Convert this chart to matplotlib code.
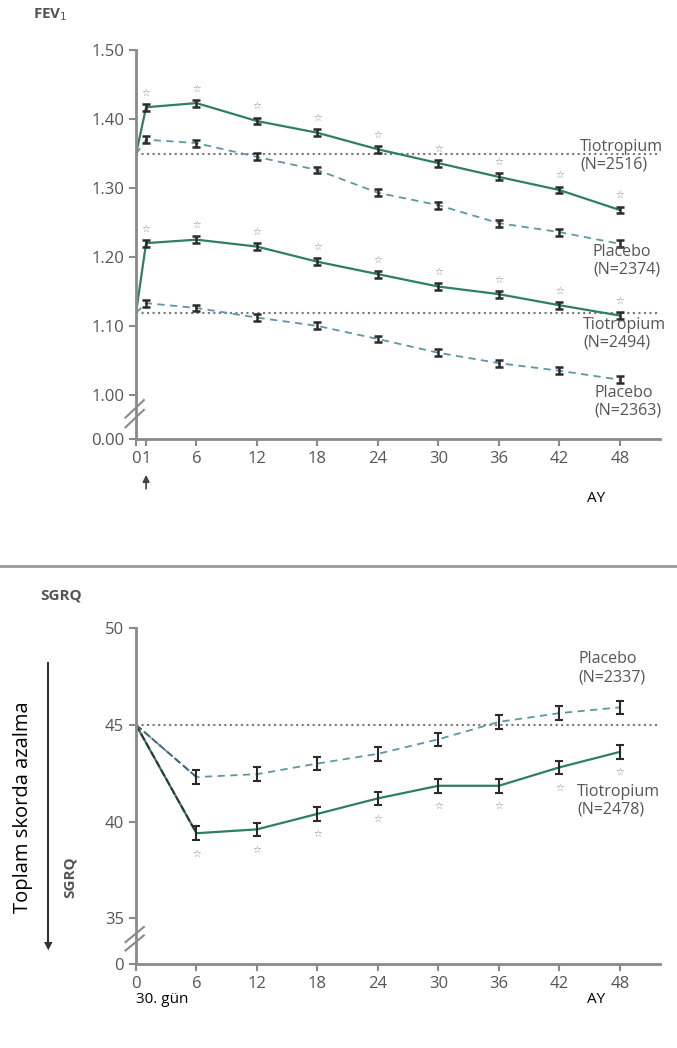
import numpy as np
import matplotlib.pyplot as plt
from matplotlib.lines import Line2D
from matplotlib.transforms import blended_transform_factory

# FEV1 data (litre), month 0 = baseline
ay_fev = [0, 1, 6, 12, 18, 24, 30, 36, 42, 48]
tio_ust = [1.349, 1.417, 1.423, 1.397, 1.380, 1.356, 1.336, 1.316, 1.297, 1.268]
plc_ust = [1.349, 1.370, 1.365, 1.345, 1.326, 1.293, 1.275, 1.249, 1.236, 1.219]
tio_alt = [1.119, 1.220, 1.225, 1.215, 1.193, 1.175, 1.157, 1.146, 1.130, 1.115]
plc_alt = [1.119, 1.133, 1.126, 1.112, 1.100, 1.081, 1.061, 1.046, 1.035, 1.022]
fev_hata = 0.005
fev_ticks = [1.00, 1.10, 1.20, 1.30, 1.40, 1.50]
fev_xticks = [0, 1, 6, 12, 18, 24, 30, 36, 42, 48]

# SGRQ data
ay_sgrq = [0, 6, 12, 18, 24, 30, 36, 42, 48]
tio_sgrq = [45.0, 39.4, 39.6, 40.4, 41.2, 41.85, 41.85, 42.8, 43.6]
plc_sgrq = [45.0, 42.3, 42.45, 43.0, 43.5, 44.25, 45.15, 45.6, 45.9]
sgrq_hata = 0.35
sgrq_ticks = [35, 40, 45, 50]
sgrq_xticks = [0, 6, 12, 18, 24, 30, 36, 42, 48]

yesil = '#2f7f63'
mavi = '#5b98a3'
gri = '#555555'
eksen = '#8a8a8a'

plt.rcParams['font.family'] = ['Open Sans', 'DejaVu Sans']

fig = plt.figure(figsize=(6.77, 10.48), dpi=100)

def eksen_stil(ax):
    for s in ['top', 'right']:
        ax.spines[s].set_visible(False)
    for s in ['left', 'bottom']:
        ax.spines[s].set_color(eksen)
        ax.spines[s].set_linewidth(2)
    ax.tick_params(colors=eksen, width=1.5, length=5, labelcolor=gri, labelsize=12)

def kirik(ax, y0):
    for dy in [0.0, 0.025]:
        ax.plot([-0.02, 0.015], [y0 + dy, y0 + dy + 0.045], transform=ax.transAxes,
                color=eksen, lw=1.5, clip_on=False)

def etiket(ax, x, y, s):
    ax.text(x, y, s, transform=ax.transAxes, fontsize=11.5, color=gri,
            linespacing=1.15, va='top', ha='left')

# ---------- FEV1 ----------
ax1 = fig.add_axes([0.2009, 0.5811, 0.7741, 0.3712])
eksen_stil(ax1)
alt1 = 0.936
ax1.set_ylim(alt1, 1.50)
ax1.set_xlim(0, 52)
ax1.axhline(tio_ust[0], color='#777777', ls=':', lw=1.5)
ax1.axhline(tio_alt[0], color='#777777', ls=':', lw=1.5)
for tio, plc in [(tio_ust, plc_ust), (tio_alt, plc_alt)]:
    ax1.plot(ay_fev, plc, color=mavi, ls='--', lw=1.3, dashes=(4, 3))
    ax1.plot(ay_fev, tio, color=yesil, lw=1.6)
    ax1.errorbar(ay_fev[1:], plc[1:], yerr=fev_hata, fmt='none', ecolor='#2a2a2a',
                 elinewidth=1.8, capsize=3, capthick=1.8)
    ax1.errorbar(ay_fev[1:], tio[1:], yerr=fev_hata, fmt='none', ecolor='#2a2a2a',
                 elinewidth=1.8, capsize=3, capthick=1.8)
    for x, y in zip(ay_fev[1:], tio[1:]):
        ax1.annotate('☆', (x, y), xytext=(0, 7), textcoords='offset points',
                     ha='center', va='bottom', fontsize=7, color='#888888',
                     family='DejaVu Sans')
ax1.set_yticks([alt1] + fev_ticks)
ax1.set_yticklabels(['0.00'] + ['%.2f' % t for t in fev_ticks])
ax1.set_xticks(fev_xticks)
ax1.set_xticklabels([str(t) for t in fev_xticks])
kirik(ax1, 0.03)
ax1.text(-0.197, 1.09, 'FEV$_1$', transform=ax1.transAxes, fontsize=11,
         fontweight='bold', color=gri, va='center')
etiket(ax1, 0.847, 0.772, 'Tiotropium\n(N=2516)')
etiket(ax1, 0.872, 0.502, 'Placebo\n(N=2374)')
etiket(ax1, 0.853, 0.314, 'Tiotropium\n(N=2494)')
etiket(ax1, 0.874, 0.139, 'Placebo\n(N=2363)')
tr = blended_transform_factory(ax1.transData, ax1.transAxes)
ax1.annotate('', xy=(1, -0.085), xytext=(1, -0.135), xycoords=tr, textcoords=tr,
             arrowprops=dict(arrowstyle='-|>', color='#444444', lw=1.2))
ax1.text(0.861, -0.152, 'AY', transform=ax1.transAxes, fontsize=11, color='black',
         va='center')

# separator
y_ayr = 1 - 566 / 1048
fig.add_artist(Line2D([0.0, 1.0], [y_ayr, y_ayr], color='#999999', lw=2))

# ---------- SGRQ ----------
ax2 = fig.add_axes([0.2009, 0.0802, 0.7741, 0.3206])
eksen_stil(ax2)
alt2 = 32.65
ax2.set_ylim(alt2, 50)
ax2.set_xlim(0, 52)
ax2.axhline(45, color='#777777', ls=':', lw=1.5)
ax2.plot(ay_sgrq, plc_sgrq, color=mavi, ls='--', lw=1.3, dashes=(4, 3))
ax2.plot(ay_sgrq, tio_sgrq, color=yesil, lw=1.6)
ax2.plot(ay_sgrq[:2], tio_sgrq[:2], color='#333333', ls='--', lw=1.4)
ax2.plot(ay_sgrq[:2], plc_sgrq[:2], color='#44667a', ls='--', lw=1.4)
ax2.errorbar(ay_sgrq[1:], plc_sgrq[1:], yerr=sgrq_hata, fmt='none', ecolor='#2a2a2a',
             elinewidth=1.5, capsize=3, capthick=1.5)
ax2.errorbar(ay_sgrq[1:], tio_sgrq[1:], yerr=sgrq_hata, fmt='none', ecolor='#2a2a2a',
             elinewidth=1.5, capsize=3, capthick=1.5)
for x, y in zip(ay_sgrq[1:], tio_sgrq[1:]):
    ax2.annotate('☆', (x, y), xytext=(0, -11), textcoords='offset points',
                 ha='center', va='top', fontsize=7, color='#888888',
                 family='DejaVu Sans')
ax2.set_yticks([alt2] + sgrq_ticks)
ax2.set_yticklabels(['0'] + [str(t) for t in sgrq_ticks])
ax2.set_xticks(sgrq_xticks)
ax2.set_xticklabels([str(t) for t in sgrq_xticks])
kirik(ax2, 0.04)
ax2.text(-0.183, 1.098, 'SGRQ', transform=ax2.transAxes, fontsize=11,
         fontweight='bold', color=gri, va='center')
etiket(ax2, 0.844, 0.93, 'Placebo\n(N=2337)')
etiket(ax2, 0.842, 0.535, 'Tiotropium\n(N=2478)')
ax2.text(0.0, -0.107, '30. gün', transform=ax2.transAxes, fontsize=11, color='black',
         va='center')
ax2.text(0.861, -0.107, 'AY', transform=ax2.transAxes, fontsize=11, color='black',
         va='center')

fig.text(23 / 677, 1 - 807 / 1048, 'Toplam skorda azalma', rotation=90, fontsize=14.5,
         color='black', ha='center', va='center')
fig.add_artist(Line2D([48 / 677, 48 / 677], [1 - 663 / 1048, 1 - 942 / 1048],
                      color='#333333', lw=1.5))
fig.text(48 / 677, 1 - 946 / 1048, '▼', fontsize=8, color='#333333', ha='center',
         va='center', family='DejaVu Sans')
fig.text(70 / 677, 1 - 877 / 1048, 'SGRQ', rotation=90, fontsize=11, fontweight='bold',
         color=gri, ha='center', va='center')

plt.savefig('out.png', dpi=100)
